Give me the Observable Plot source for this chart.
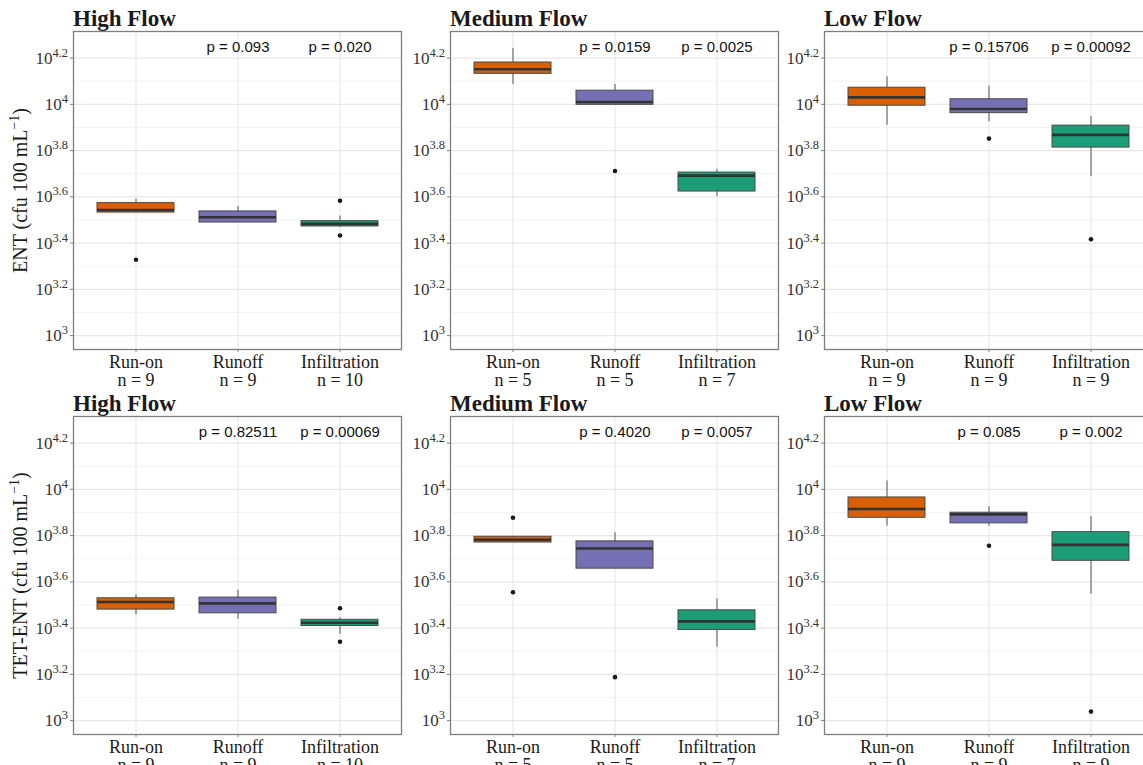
<!DOCTYPE html>
<html><head><meta charset="utf-8">
<script src="https://cdn.jsdelivr.net/npm/d3@7"></script>
<script src="https://cdn.jsdelivr.net/npm/@observablehq/plot@0.6"></script>
<style>
html,body{margin:0;padding:0;background:#fff;}
#fig{position:relative;width:1143px;height:765px;overflow:hidden;background:#fff;}
.panel{position:absolute;}
.ttl{font-family:"Liberation Serif",serif;font-weight:bold;font-size:23px;line-height:20px;height:21px;padding-top:9px;color:#1a1a1a;white-space:nowrap;}
.panel svg{display:block;overflow:visible;max-width:none !important;}
</style></head><body><div id="fig"></div>
<script>
// ---------- data (values are log10 of cfu per 100 mL) ----------
const categories = ["Run-on", "Runoff", "Infiltration"];
const flows = ["High Flow", "Medium Flow", "Low Flow"];
const nCounts = [[9, 9, 10], [5, 5, 7], [9, 9, 9]];
const yTicks = [3, 3.2, 3.4, 3.6, 3.8, 4, 4.2];
const yTickLabels = ["3", "3.2", "3.4", "3.6", "3.8", "4", "4.2"];
const yMinor = [3.1, 3.3, 3.5, 3.7, 3.9, 4.1, 4.3];
const boxColors = ["#D95F02", "#7570B3", "#1B9E77"];

// ENT: order High(Run-on, Runoff, Infiltration), Medium(...), Low(...)
const entLow  = [3.532, 3.489, 3.468, 4.086, 3.998, 3.601, 3.909, 3.925, 3.688];
const entQ1   = [3.532, 3.489, 3.472, 4.132, 3.998, 3.623, 3.994, 3.962, 3.813];
const entMed  = [3.543, 3.512, 3.483, 4.152, 4.010, 3.692, 4.030, 3.980, 3.868];
const entQ3   = [3.573, 3.537, 3.495, 4.181, 4.059, 3.705, 4.072, 4.022, 3.908];
const entHigh = [3.590, 3.558, 3.517, 4.242, 4.086, 3.719, 4.119, 4.079, 3.947];
const entOutFlow = [0, 0, 0, 1, 2, 2];
const entOutCat  = ["Run-on", "Infiltration", "Infiltration", "Runoff", "Runoff", "Infiltration"];
const entOutVal  = [3.328, 3.583, 3.433, 3.712, 3.852, 3.417];
const entP = [["0.093", "0.020"], ["0.0159", "0.0025"], ["0.15706", "0.00092"]];

// TET-ENT
const tetLow  = [3.457, 3.438, 3.373, 3.770, 3.657, 3.318, 3.841, 3.841, 3.546];
const tetQ1   = [3.480, 3.464, 3.409, 3.770, 3.657, 3.392, 3.877, 3.853, 3.691];
const tetMed  = [3.513, 3.507, 3.423, 3.782, 3.744, 3.429, 3.915, 3.892, 3.760];
const tetQ3   = [3.529, 3.532, 3.436, 3.795, 3.775, 3.477, 3.965, 3.899, 3.815];
const tetHigh = [3.543, 3.564, 3.445, 3.797, 3.812, 3.526, 4.036, 3.925, 3.882];
const tetOutFlow = [0, 0, 1, 1, 1, 2, 2];
const tetOutCat  = ["Infiltration", "Infiltration", "Run-on", "Run-on", "Runoff", "Runoff", "Infiltration"];
const tetOutVal  = [3.486, 3.341, 3.877, 3.555, 3.188, 3.756, 3.039];
const tetP = [["0.82511", "0.00069"], ["0.4020", "0.0057"], ["0.085", "0.002"]];

const rowLabels = ["ENT (cfu 100 mL", "TET-ENT (cfu 100 mL"];

// ---------- layout ----------
const fig = document.getElementById("fig");
const colLeft = [0, 405, 779];
const rowTop = [0, 385];
const frameW = 328;

function makePanel(row, col) {
  const ent = row === 0;
  const lo = ent ? entLow : tetLow, q1 = ent ? entQ1 : tetQ1, md = ent ? entMed : tetMed,
        q3 = ent ? entQ3 : tetQ3, hi = ent ? entHigh : tetHigh;
  const oF = ent ? entOutFlow : tetOutFlow, oC = ent ? entOutCat : tetOutCat, oV = ent ? entOutVal : tetOutVal;
  const P = ent ? entP : tetP;
  const stats = categories.map((c, i) => ({cat: c, lo: lo[col * 3 + i], q1: q1[col * 3 + i], med: md[col * 3 + i], q3: q3[col * 3 + i], hi: hi[col * 3 + i]}));
  const outs = oF.map((f, i) => ({f, cat: oC[i], v: oV[i]})).filter(d => d.f === col);
  const pv = [{cat: "Runoff", label: "p = " + P[col][0]}, {cat: "Infiltration", label: "p = " + P[col][1]}];
  const ml = col === 0 ? 73 : 45;
  const W = ml + frameW + 2;
  const nMap = new Map(categories.map((c, i) => [c, nCounts[col][i]]));

  const svg = Plot.plot({
    width: W, height: 369,
    marginLeft: ml, marginRight: 2, marginTop: 1, marginBottom: 50,
    style: {fontFamily: "'Liberation Serif', serif", background: "transparent", overflow: "visible"},
    x: {domain: categories, paddingInner: 0.25, paddingOuter: 0.225},
    y: {domain: [2.94, 4.315]},
    color: {domain: categories, range: boxColors},
    marks: [
      Plot.gridY(yMinor, {stroke: "#f0f0f0", strokeOpacity: 1, strokeWidth: 0.8}),
      Plot.gridY(yTicks, {stroke: "#e8e8e8", strokeOpacity: 1, strokeWidth: 1.1}),
      Plot.gridX(categories, {stroke: "#e8e8e8", strokeOpacity: 1, strokeWidth: 1.1}),
      Plot.ruleX(stats, {x: "cat", y1: "lo", y2: "hi", stroke: "#555", strokeWidth: 1}),
      Plot.barY(stats, {x: "cat", y1: "q1", y2: "q3", fill: "cat", stroke: "#4a4a4a", strokeWidth: 1}),
      Plot.tickY(stats, {x: "cat", y: "med", stroke: "#333", strokeWidth: 2.6}),
      Plot.dot(outs, {x: "cat", y: "v", r: 2.3, fill: "#1a1a1a", stroke: null}),
      Plot.text(pv, {x: "cat", frameAnchor: "top", dy: 10, text: "label", fontFamily: "'Liberation Sans', Arial, sans-serif", fontSize: 15, fill: "#111"}),
      Plot.axisY(yTicks, {tickSize: 3, tickPadding: 2.5, fontSize: 17, stroke: "#7f7f7f", fill: "#333",
        tickFormat: d => yTickLabels[yTicks.indexOf(d)],
        label: col === 0 ? rowLabels[row] : null, labelAnchor: "center", labelOffset: 61, labelArrow: "none"}),
      Plot.axisX({tickSize: 3, tickPadding: 2, fontSize: 18, lineHeight: 1.03, stroke: "#7f7f7f", fill: "#1a1a1a",
        tickFormat: c => `${c}\nn = ${nMap.get(c)}`, label: null}),
      Plot.frame({stroke: "#7f7f7f", strokeWidth: 1.3})
    ]
  });
  svg.style.maxWidth = "none";
  svg.style.width = W + "px";
  svg.style.height = "369px";

  const s = d3.select(svg);
  s.selectAll('g[aria-label="y-axis tick label"] text').each(function () {
    const e = this.textContent;
    this.textContent = "";
    const t = d3.select(this);
    t.append("tspan").text("10");
    t.append("tspan").attr("dy", "-7").attr("font-size", "12.5px").text(e);
  });
  s.selectAll('g[aria-label="y-axis label"] text').each(function () {
    const base = this.textContent;
    this.textContent = "";
    const t = d3.select(this).attr("font-size", "20px").attr("fill", "#1a1a1a");
    t.append("tspan").text(base);
    t.append("tspan").attr("dy", "-8").attr("font-size", "14px").text("\u22121");
    t.append("tspan").attr("dy", "8").text(")");
  });

  const div = document.createElement("div");
  div.className = "panel";
  div.style.left = colLeft[col] + "px";
  div.style.top = rowTop[row] + "px";
  div.style.width = W + "px";
  const ttl = document.createElement("div");
  ttl.className = "ttl";
  ttl.style.paddingLeft = ml + "px";
  ttl.textContent = flows[col];
  div.appendChild(ttl);
  div.appendChild(svg);
  fig.appendChild(div);
}

for (let r = 0; r < 2; r++) for (let c = 0; c < 3; c++) makePanel(r, c);
</script></body></html>
